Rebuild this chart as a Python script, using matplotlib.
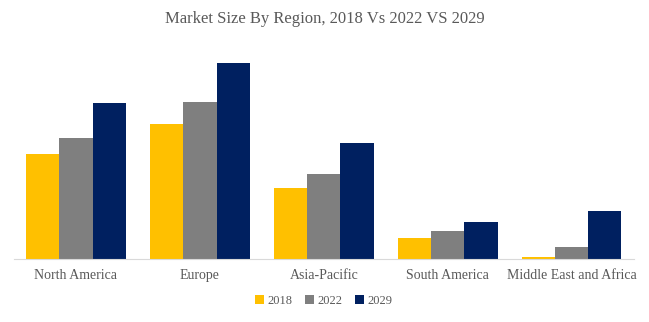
import matplotlib.pyplot as plt
import numpy as np

regions = ["North America", "Europe", "Asia-Pacific", "South America", "Middle East and Africa"]
years = ["2018", "2022", "2029"]
size_2018 = [105, 135, 71, 21, 2]
size_2022 = [121, 157, 85, 28, 12]
size_2029 = [156, 197, 116, 37, 48]
colors = ["#FFC000", "#7F7F7F", "#002060"]

plt.rcParams['font.family'] = ['Liberation Serif', 'DejaVu Serif']

fig = plt.figure(figsize=(6.49, 3.22), dpi=100)
ax = fig.add_axes([0.0216, 0.196, 0.955, 0.65])

x = np.arange(len(regions))
w = 0.267
for i, (vals, c, yr) in enumerate(zip([size_2018, size_2022, size_2029], colors, years)):
    ax.bar(x + (i - 1) * w, vals, width=w, color=c, label=yr)

ax.set_xlim(-0.5, len(regions) - 0.5)
ax.set_ylim(0, 210)
ax.set_xticks(x)
ax.set_xticklabels(regions, fontsize=10, color="#595959")
ax.tick_params(axis='x', length=0, pad=7)
ax.set_yticks([])
for s in ["top", "right", "left"]:
    ax.spines[s].set_visible(False)
ax.spines["bottom"].set_color("#D9D9D9")

fig.text(0.5, 0.94, "Market Size By Region, 2018 Vs 2022 VS 2029",
         ha="center", va="center", fontsize=12, color="#595959")

ax.legend(loc="center", bbox_to_anchor=(0.5, -0.2), ncol=3, frameon=False,
          fontsize=9, handlelength=0.7, handleheight=0.7, handletextpad=0.3,
          columnspacing=1.0, labelcolor="#595959")

fig.savefig("out.png", dpi=100)
